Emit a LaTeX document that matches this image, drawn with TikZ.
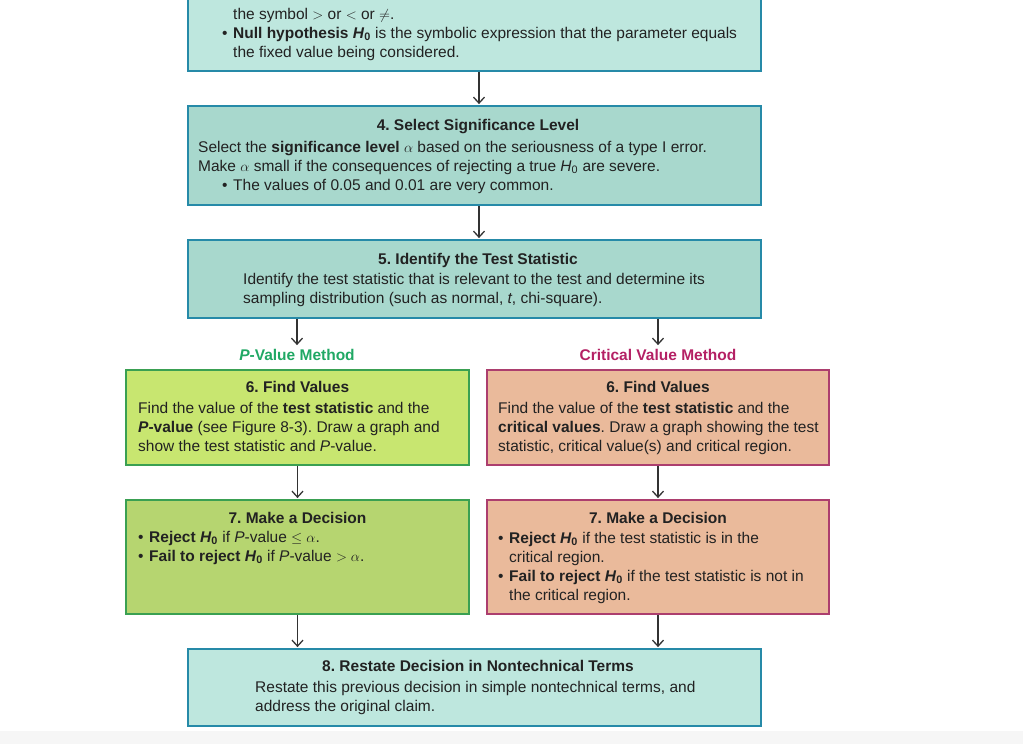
\documentclass[tikz,border=0pt]{standalone}
\usepackage{fontspec}
\setmainfont{Liberation Sans}
\usetikzlibrary{arrows.meta}
\frenchspacing
\definecolor{tealL}{RGB}{190,231,222}
\definecolor{tealD}{RGB}{168,216,205}
\definecolor{tealB}{RGB}{38,138,168}
\definecolor{greenL}{RGB}{200,230,112}
\definecolor{greenD}{RGB}{182,213,112}
\definecolor{greenB}{RGB}{58,160,82}
\definecolor{peach}{RGB}{234,186,155}
\definecolor{peachB}{RGB}{172,62,110}
\definecolor{pgreen}{RGB}{32,168,100}
\definecolor{cmag}{RGB}{180,32,100}
\definecolor{txtc}{RGB}{34,34,34}
\definecolor{arrc}{RGB}{50,50,50}
\newcommand{\bul}{\makebox[11pt][l]{\textbullet}}
\newcommand{\ind}{\hspace*{11pt}}
\newcommand{\Hz}{\textit{H}\textsubscript{0}}
\begin{document}
\begin{tikzpicture}[x=1pt,y=-1pt,
  box/.style={line width=1.8pt, inner sep=0pt, rectangle},
  tbox/.style={box, draw=tealB},
  gbox/.style={box, draw=greenB},
  pbox/.style={box, draw=peachB, fill=peach},
  txt/.style={anchor=base west, align=left, inner sep=0pt, font=\fontsize{15.5}{19}\selectfont, text=txtc},
  ttl/.style={anchor=base, inner sep=0pt, font=\fontsize{15.5}{19}\selectfont\bfseries, text=txtc},
  lbl/.style={inner sep=0pt, font=\fontsize{15.5}{19}\selectfont\bfseries},
  arr/.style={draw=arrc, line width=1.3pt, -{Straight Barb[length=6pt,width=11pt]}, shorten >=1pt}
]
\useasboundingbox (0,0) rectangle (1023,744);
\fill[gray!7] (0,731) rectangle (1023,744);

% boxes
\node[tbox, fill=tealL, minimum width=573pt, minimum height=85pt] (b3) at (474.5,28.5) {};
\node[tbox, fill=tealD, minimum width=573pt, minimum height=99pt] (b4) at (474.5,155.5) {};
\node[tbox, fill=tealD, minimum width=573pt, minimum height=78pt] (b5) at (474.5,279) {};
\node[gbox, fill=greenL, minimum width=343pt, minimum height=95pt] (b6l) at (297.5,417.5) {};
\node[pbox, minimum width=342pt, minimum height=95pt] (b6r) at (658,417.5) {};
\node[gbox, fill=greenD, minimum width=343pt, minimum height=114pt] (b7l) at (297.5,557) {};
\node[pbox, minimum width=342pt, minimum height=114pt] (b7r) at (658,557) {};
\node[tbox, fill=tealL, minimum width=573pt, minimum height=77pt] (b8) at (474.5,687.5) {};

% top box text (anchor = baseline of last line)
\node[txt] (t3) at (222,57) {\ind the symbol $>$ or $<$ or $\neq$.\\
\bul\textbf{Null hypothesis \Hz} is the symbolic expression that the parameter equals\\
\ind the fixed value being considered.};

% box 4
\node[ttl] (h4) at (478,130) {4. Select Significance Level};
\node[txt] (t4) at (198,190) {Select the \textbf{significance level} $\alpha$ based on the seriousness of a type I error.\\
Make $\alpha$ small if the consequences of rejecting a true \Hz{} are severe.\\
\hspace*{24pt}\bul The values of 0.05 and 0.01 are very common.};

% box 5
\node[ttl] (h5) at (478,264) {5. Identify the Test Statistic};
\node[txt] (t5) at (243,303) {Identify the test statistic that is relevant to the test and determine its\\
sampling distribution (such as normal, \textit{t}, chi-square).};

% method labels
\node[lbl, text=pgreen] (pl) at (297,355) {\textit{P}-Value Method};
\node[lbl, text=cmag] (cl) at (658,355) {Critical Value Method};

% box 6
\node[ttl] (h6l) at (297.5,392) {6. Find Values};
\node[txt] (t6l) at (138,451) {Find the value of the \textbf{test statistic} and the\\
\textbf{\textit{P}-value} (see Figure 8-3). Draw a graph and\\
show the test statistic and \textit{P}-value.};
\node[ttl] (h6r) at (658,392) {6. Find Values};
\node[txt] (t6r) at (498,451) {Find the value of the \textbf{test statistic} and the\\
\textbf{critical values}. Draw a graph showing the test\\
statistic, critical value(s) and critical region.};

% box 7
\node[ttl] (h7l) at (297.5,523) {7. Make a Decision};
\node[txt] (t7l) at (138,561) {\bul\textbf{Reject \Hz} if \textit{P}-value $\le\alpha$.\\
\bul\textbf{Fail to reject \Hz} if \textit{P}-value $>\alpha$.};
\node[ttl] (h7r) at (658,523) {7. Make a Decision};
\node[txt] (t7r) at (498,600) {\bul\textbf{Reject \Hz} if the test statistic is in the\\
\ind critical region.\\
\bul\textbf{Fail to reject \Hz} if the test statistic is not in\\
\ind the critical region.};

% box 8
\node[ttl] (h8) at (478,671) {8. Restate Decision in Nontechnical Terms};
\node[txt] (t8) at (255,711) {Restate this previous decision in simple nontechnical terms, and\\
address the original claim.};

% arrows
\draw[arr] ([xshift=4.5pt]b3.south) -- ([xshift=4.5pt]b4.north);
\draw[arr] ([xshift=4.5pt]b4.south) -- ([xshift=4.5pt]b5.north);
\draw[arr] (b5.south -| pl) -- ([yshift=3pt]pl.north);
\draw[arr] (b5.south -| cl) -- ([yshift=3pt]cl.north);
\draw[arr] (b6l.south) -- (b7l.north);
\draw[arr] (b6r.south) -- (b7r.north);
\draw[arr] (b7l.south) -- (b8.north -| b7l.south);
\draw[arr] (b7r.south) -- (b8.north -| b7r.south);
\end{tikzpicture}
\end{document}
